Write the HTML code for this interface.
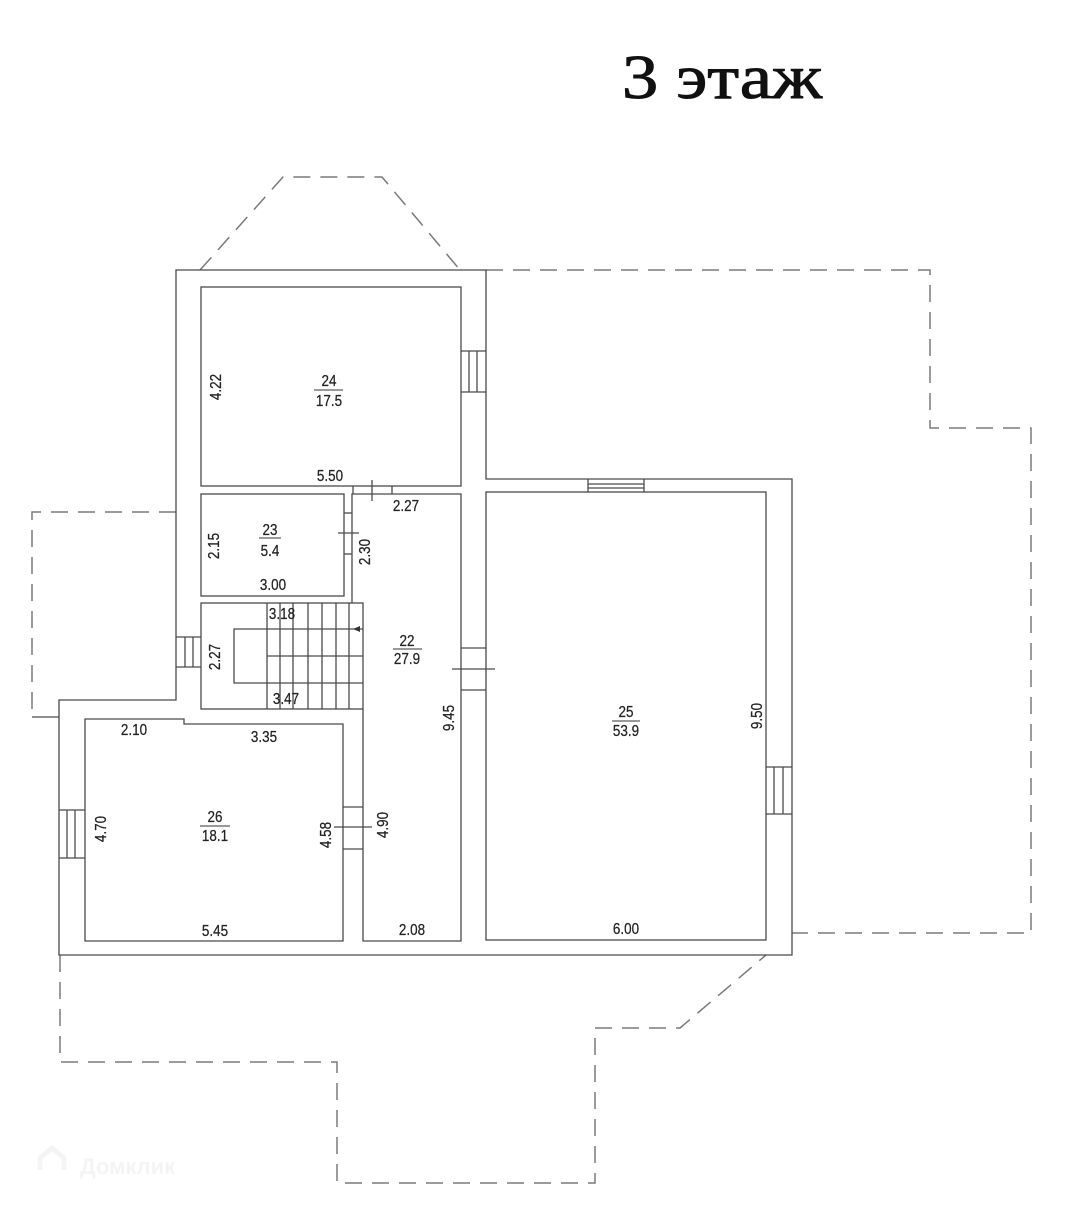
<!DOCTYPE html>
<html><head><meta charset="utf-8"><style>
html,body{margin:0;padding:0;background:#fff;}
svg{display:block;}
.w{fill:none;stroke:#4a4a4a;stroke-width:1.3;}
.d{fill:none;stroke:#7a7a7a;stroke-width:1.5;stroke-dasharray:17 10;}
.t{font-family:"Liberation Sans",Arial,sans-serif;font-size:16px;fill:#222;stroke:#222;stroke-width:0.25;text-anchor:middle;}
</style></head><body>
<svg width="1080" height="1210" viewBox="0 0 1080 1210" xmlns="http://www.w3.org/2000/svg">
<rect width="1080" height="1210" fill="#fff"/>
<text x="622" y="98" textLength="200" lengthAdjust="spacingAndGlyphs" style="font-family:'Liberation Serif','Noto Serif CJK SC',serif;font-size:62px;fill:#111;stroke:#111;stroke-width:1;">3 этаж</text>

<!-- dashed outlines -->
<polyline class="d" points="200,270 283,177 382,177 460,270"/>
<polyline class="d" points="486,270 930,270 930,428 1031,428 1031,933 792,933"/>
<polyline class="d" points="176,512 32,512 32,717"/>
<line class="w" x1="32" y1="717" x2="59" y2="717"/>
<polyline class="d" points="60,955 60,1062 337,1062 337,1183 595,1183 595,1028 680,1028 766,955"/>

<!-- outer walls -->
<polygon class="w" points="176,270 486,270 486,479 792,479 792,955 59,955 59,700 176,700"/>

<!-- rooms -->
<rect class="w" x="201" y="287" width="260" height="199"/>
<rect class="w" x="201" y="494" width="143" height="102"/>
<rect class="w" x="201" y="603" width="162" height="106"/>
<polyline class="w" points="352,603 352,494 461,494 461,941 363,941 363,709"/>
<polygon class="w" points="85,719 184,719 184,724 343,724 343,941 85,941"/>
<rect class="w" x="486" y="492" width="280" height="448"/>

<!-- stairs -->
<g class="w">
<line x1="267" y1="603" x2="267" y2="709"/>
<line x1="280" y1="603" x2="280" y2="709"/>
<line x1="293" y1="603" x2="293" y2="709"/>
<line x1="308" y1="603" x2="308" y2="709"/>
<line x1="322" y1="603" x2="322" y2="709"/>
<line x1="336" y1="603" x2="336" y2="709"/>
<line x1="349" y1="603" x2="349" y2="709"/>
<polyline points="363,629 234,629 234,683 363,683"/>
<line x1="267" y1="656" x2="363" y2="656"/>
</g>
<path d="M353,629 L360,626 L360,632 Z" fill="#333"/>

<!-- windows -->
<g class="w">
<line x1="461" y1="351" x2="486" y2="351"/><line x1="461" y1="392" x2="486" y2="392"/>
<line x1="469" y1="351" x2="469" y2="392"/><line x1="477" y1="351" x2="477" y2="392"/>

<line x1="588" y1="479" x2="588" y2="492"/><line x1="644" y1="479" x2="644" y2="492"/>
<line x1="588" y1="484" x2="644" y2="484"/><line x1="588" y1="488" x2="644" y2="488"/>

<line x1="766" y1="767" x2="792" y2="767"/><line x1="766" y1="814" x2="792" y2="814"/>
<line x1="774" y1="767" x2="774" y2="814"/><line x1="783" y1="767" x2="783" y2="814"/>

<line x1="59" y1="810" x2="85" y2="810"/><line x1="59" y1="858" x2="85" y2="858"/>
<line x1="67" y1="810" x2="67" y2="858"/><line x1="75" y1="810" x2="75" y2="858"/>

<line x1="176" y1="637" x2="201" y2="637"/><line x1="176" y1="667" x2="201" y2="667"/>
<line x1="185" y1="637" x2="185" y2="667"/><line x1="193" y1="637" x2="193" y2="667"/>
</g>

<!-- doors -->
<g class="w">
<line x1="461" y1="648" x2="486" y2="648"/><line x1="461" y1="690" x2="486" y2="690"/>
<line x1="452" y1="669" x2="495" y2="669"/>

<line x1="343" y1="807" x2="363" y2="807"/><line x1="343" y1="849" x2="363" y2="849"/>
<line x1="334" y1="827" x2="372" y2="827"/>

<line x1="353" y1="486" x2="353" y2="494"/><line x1="392" y1="486" x2="392" y2="494"/>
<line x1="372" y1="480" x2="372" y2="501"/>

<line x1="344" y1="513" x2="352" y2="513"/><line x1="344" y1="554" x2="352" y2="554"/>
<line x1="338" y1="533" x2="359" y2="533"/>
</g>

<!-- fraction lines -->
<g stroke="#333" stroke-width="1">
<line x1="314" y1="390" x2="343" y2="390"/>
<line x1="259" y1="538" x2="281" y2="538"/>
<line x1="393" y1="649" x2="422" y2="649"/>
<line x1="200" y1="826" x2="230" y2="826"/>
<line x1="612" y1="721" x2="640" y2="721"/>
</g>

<!-- labels -->
<g class="t">
<g transform="translate(329,380) scale(0.84,1)"><text y="6">24</text></g>
<g transform="translate(329,400) scale(0.84,1)"><text y="6">17.5</text></g>
<g transform="translate(215,387) rotate(-90) scale(0.84,1)"><text y="6">4.22</text></g>
<g transform="translate(330,475) scale(0.84,1)"><text y="6">5.50</text></g>
<g transform="translate(406,505) scale(0.84,1)"><text y="6">2.27</text></g>

<g transform="translate(270,529) scale(0.84,1)"><text y="6">23</text></g>
<g transform="translate(270,550) scale(0.84,1)"><text y="6">5.4</text></g>
<g transform="translate(213,546) rotate(-90) scale(0.84,1)"><text y="6">2.15</text></g>
<g transform="translate(364,552) rotate(-90) scale(0.84,1)"><text y="6">2.30</text></g>
<g transform="translate(273,584) scale(0.84,1)"><text y="6">3.00</text></g>

<g transform="translate(282,613) scale(0.84,1)"><text y="6">3.18</text></g>
<g transform="translate(214,657) rotate(-90) scale(0.84,1)"><text y="6">2.27</text></g>
<g transform="translate(286,698) scale(0.84,1)"><text y="6">3.47</text></g>

<g transform="translate(407,640) scale(0.84,1)"><text y="6">22</text></g>
<g transform="translate(407,658) scale(0.84,1)"><text y="6">27.9</text></g>
<g transform="translate(448,718) rotate(-90) scale(0.84,1)"><text y="6">9.45</text></g>

<g transform="translate(134,729) scale(0.84,1)"><text y="6">2.10</text></g>
<g transform="translate(264,736) scale(0.84,1)"><text y="6">3.35</text></g>
<g transform="translate(215,816) scale(0.84,1)"><text y="6">26</text></g>
<g transform="translate(215,835) scale(0.84,1)"><text y="6">18.1</text></g>
<g transform="translate(100,829) rotate(-90) scale(0.84,1)"><text y="6">4.70</text></g>
<g transform="translate(325,835) rotate(-90) scale(0.84,1)"><text y="6">4.58</text></g>
<g transform="translate(382,825) rotate(-90) scale(0.84,1)"><text y="6">4.90</text></g>
<g transform="translate(215,930) scale(0.84,1)"><text y="6">5.45</text></g>
<g transform="translate(412,929) scale(0.84,1)"><text y="6">2.08</text></g>

<g transform="translate(626,711) scale(0.84,1)"><text y="6">25</text></g>
<g transform="translate(626,730) scale(0.84,1)"><text y="6">53.9</text></g>
<g transform="translate(756,716) rotate(-90) scale(0.84,1)"><text y="6">9.50</text></g>
<g transform="translate(626,928) scale(0.84,1)"><text y="6">6.00</text></g>
</g>

<!-- watermark -->
<text x="80" y="1174" style="font-family:'Liberation Sans',sans-serif;font-size:22px;font-weight:bold;fill:#f4f4f4;">Домклик</text>
<path d="M40,1170 L40,1158 L52,1148 L64,1158 L64,1170" fill="none" stroke="#f4f4f4" stroke-width="5"/>
</svg>
</body></html>
